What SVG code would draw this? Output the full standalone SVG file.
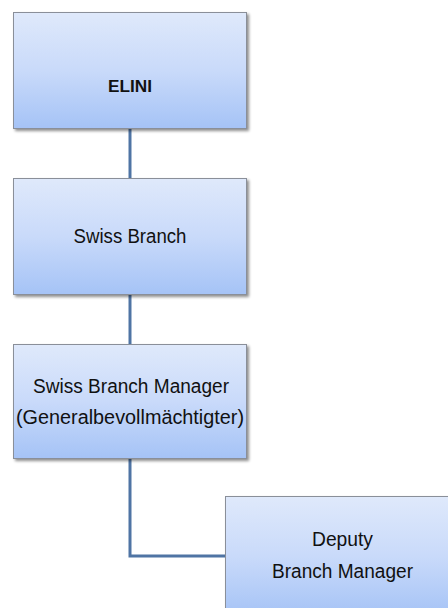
<svg xmlns="http://www.w3.org/2000/svg" width="448" height="608" viewBox="0 0 448 608">
  <defs>
    <linearGradient id="g" x1="0" y1="0" x2="0" y2="1">
      <stop offset="0" stop-color="#dfe9fb"/>
      <stop offset="0.5" stop-color="#c9dafa"/>
      <stop offset="1" stop-color="#a5c3f6"/>
    </linearGradient>
    <filter id="sh" x="-10%" y="-10%" width="130%" height="130%">
      <feGaussianBlur in="SourceAlpha" stdDeviation="1.5"/>
      <feOffset dx="1.5" dy="2" result="b"/>
      <feComponentTransfer><feFuncA type="linear" slope="0.45"/></feComponentTransfer>
      <feMerge><feMergeNode/><feMergeNode in="SourceGraphic"/></feMerge>
    </filter>
  </defs>
  <style>
    .box { fill: url(#g); stroke: #8a8f99; stroke-width: 1; filter: url(#sh); }
    .t { font-family: "Liberation Sans", Arial, sans-serif; font-size: 20px; fill: #111111; text-anchor: middle; }
    .b { font-weight: bold; font-size: 17px; }
    .c { fill: none; stroke: #4f74a4; stroke-width: 3; }
  </style>
  <rect width="448" height="608" fill="#ffffff"/>
  <g id="connectors">
    <path class="c" d="M130 129 V178"/>
    <path class="c" d="M130 295 V344"/>
    <path class="c" d="M130 459 V556 H226"/>
  </g>
  <g id="elini">
    <rect class="box" x="13.5" y="12.5" width="233" height="116"/>
    <text class="t b" x="130" y="92" textLength="44" lengthAdjust="spacingAndGlyphs">ELINI</text>
  </g>
  <g id="swiss-branch">
    <rect class="box" x="13.5" y="178.5" width="233" height="116"/>
    <text class="t" x="130" y="242.5" textLength="113" lengthAdjust="spacingAndGlyphs">Swiss Branch</text>
  </g>
  <g id="swiss-branch-manager">
    <rect class="box" x="13.5" y="344.5" width="233" height="114"/>
    <text class="t" x="131" y="393" textLength="196" lengthAdjust="spacingAndGlyphs">Swiss Branch Manager</text>
    <text class="t" x="130" y="424" textLength="228" lengthAdjust="spacingAndGlyphs">(Generalbevollmächtigter)</text>
  </g>
  <g id="deputy-branch-manager">
    <rect class="box" x="225.5" y="496.5" width="233" height="120"/>
    <text class="t" x="342.5" y="546" textLength="61" lengthAdjust="spacingAndGlyphs">Deputy</text>
    <text class="t" x="342.5" y="578" textLength="141" lengthAdjust="spacingAndGlyphs">Branch Manager</text>
  </g>
</svg>
